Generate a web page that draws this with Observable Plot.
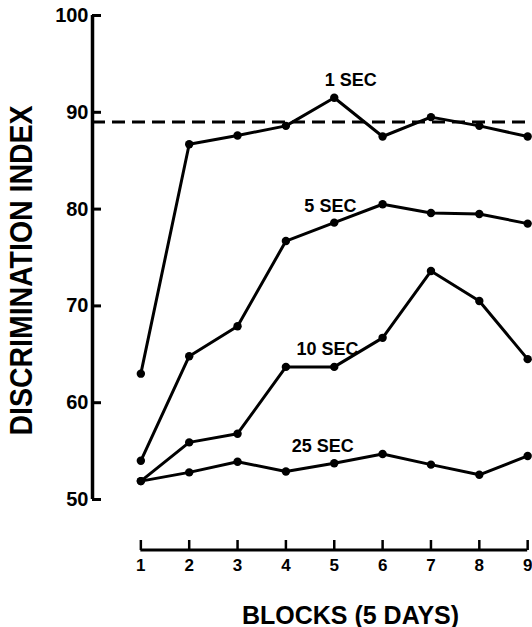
<!DOCTYPE html>
<html><head><meta charset="utf-8">
<script src="https://cdn.jsdelivr.net/npm/d3@7"></script>
<script src="https://cdn.jsdelivr.net/npm/@observablehq/plot@0.6"></script>
<style>
body{margin:0;background:#fff;}
</style></head><body><div id="chart"></div>
<script>
const blocks = [1,2,3,4,5,6,7,8,9];
const sec1  = [63, 86.7, 87.6, 88.6, 91.5, 87.5, 89.5, 88.6, 87.5];
const sec5  = [54, 64.8, 67.9, 76.7, 78.6, 80.5, 79.6, 79.5, 78.5];
const sec10 = [51.9, 55.9, 56.8, 63.7, 63.7, 66.7, 73.6, 70.5, 64.5];
const sec25 = [51.9, 52.8, 53.9, 52.9, 53.75, 54.7, 53.6, 52.55, 54.5];
const seriesNames = ["1 SEC", "5 SEC", "10 SEC", "25 SEC"];
const labelX = [5.34, 4.92, 4.86, 4.76];
const labelY = [93.3, 80.3, 65.5, 55.5];
const criterion = 89;
const yTicks = [50, 60, 70, 80, 90, 100];
const xDomain = [0, 9.1];
const yDomain = [50, 100];
const xLabel = "BLOCKS (5 DAYS)";
const yLabel = "DISCRIMINATION INDEX";

const seriesValues = [sec1, sec5, sec10, sec25];
const rows = [];
seriesNames.forEach((s, i) => blocks.forEach((b, j) => rows.push({series: s, block: b, value: seriesValues[i][j]})));
const labels = seriesNames.map((s, i) => ({text: s, x: labelX[i], y: labelY[i]}));

const xAxisLine = (index, scales, values, dimensions) => {
  const y = dimensions.height - dimensions.marginBottom;
  return d3.create("svg:line")
    .attr("x1", scales.x(blocks[0])).attr("x2", scales.x(blocks[blocks.length - 1]))
    .attr("y1", y).attr("y2", y)
    .attr("stroke", "black").attr("stroke-width", 3).node();
};

const font = "'Liberation Sans', Arial, Helvetica, sans-serif";
const plot = Plot.plot({
  width: 532, height: 627,
  marginLeft: 92, marginRight: 0, marginTop: 15, marginBottom: 77,
  x: {domain: xDomain},
  y: {domain: yDomain, insetBottom: 51},
  style: {fontFamily: font, color: "#000", background: "#fff"},
  marks: [
    Plot.ruleY([criterion], {strokeWidth: 3, strokeDasharray: "13,7"}),
    Plot.ruleX([xDomain[0]], {y1: yDomain[0], y2: yDomain[1], strokeWidth: 3.5}),
    Plot.axisY({ticks: yTicks, tickSize: -9, tickPadding: 13, strokeWidth: 3, fontSize: 20, fontWeight: "bold", label: null}),
    Plot.axisX({ticks: blocks, tickSize: -10, tickPadding: 18, strokeWidth: 2.5, fontSize: 17, fontWeight: "bold", label: null}),
    xAxisLine,
    Plot.line(rows, {x: "block", y: "value", z: "series", strokeWidth: 3, strokeLinejoin: "round"}),
    Plot.dot(rows, {x: "block", y: "value", r: 4.2, fill: "black"}),
    Plot.text(labels, {x: "x", y: "y", text: "text", fontSize: 18, fontWeight: "bold"}),
    Plot.text([xLabel], {frameAnchor: "bottom", textAnchor: "middle", lineAnchor: "middle", dx: 38, dy: 65, fontSize: 25, fontWeight: "bold", letterSpacing: 1.5}),
    Plot.text([yLabel], {frameAnchor: "left", textAnchor: "middle", lineAnchor: "middle", rotate: -90, dx: -71, dy: -12.5, fontSize: 32, fontWeight: "bold"})
  ]
});
document.getElementById("chart").appendChild(plot);
plot.querySelectorAll("text").forEach(t => {
  if (t.textContent === yLabel) {
    const target = t.querySelector("tspan") || t;
    t.setAttribute("textLength", 330);
    t.setAttribute("lengthAdjust", "spacingAndGlyphs");
    if (target !== t) { target.setAttribute("textLength", 330); target.setAttribute("lengthAdjust", "spacingAndGlyphs"); }
  }
});
</script>
</body></html>
